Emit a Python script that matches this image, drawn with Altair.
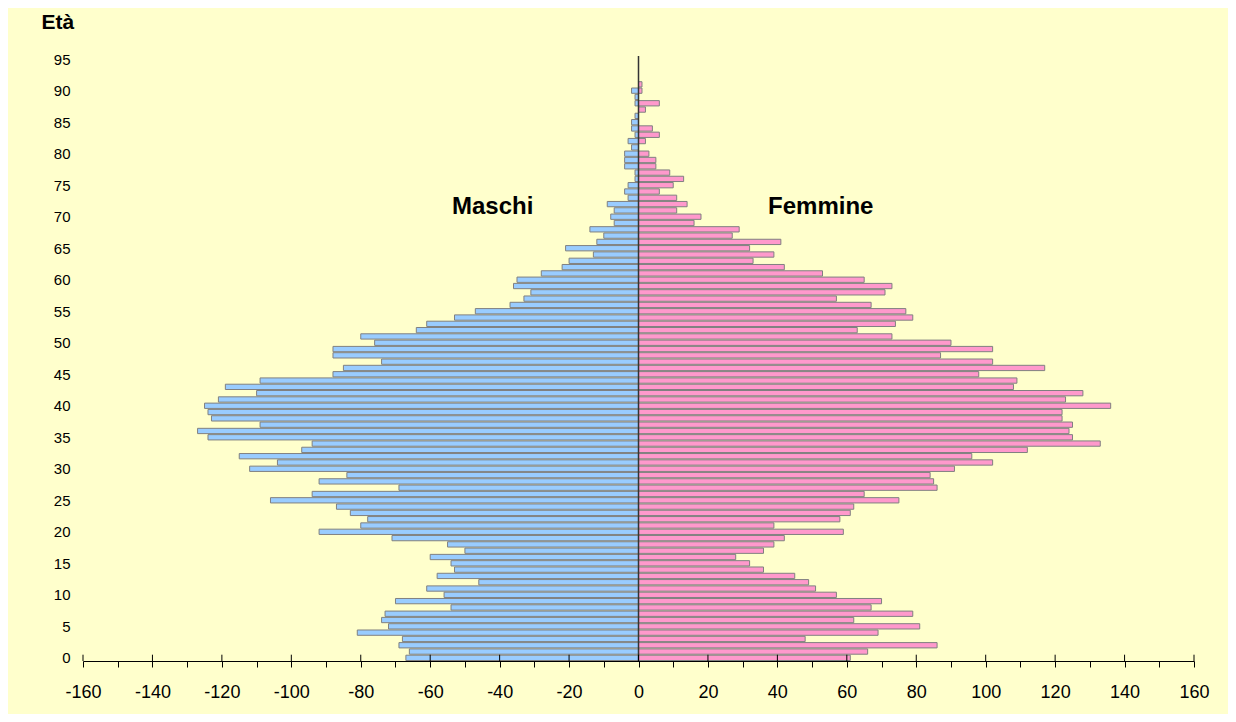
import altair as alt
import pandas as pd

# ---- data ----
ages = list(range(0, 92))
maschi = [67, 66, 69, 68, 81, 72, 74, 73, 54, 70,
          56, 61, 46, 58, 53, 54, 60, 50, 55, 71,
          92, 80, 78, 83, 87, 106, 94, 69, 92, 84,
          112, 104, 115, 97, 94, 124, 127, 109, 123, 124,
          125, 121, 110, 119, 109, 88, 85, 74, 88, 88,
          76, 80, 64, 61, 53, 47, 37, 33, 31, 36,
          35, 28, 22, 20, 13, 21, 12, 10, 14, 7,
          8, 7, 9, 3, 4, 3, 1, 1, 4, 4,
          4, 2, 3, 1, 2, 2, 1, 0, 1, 1,
          2, 0]
femmine = [61, 66, 86, 48, 69, 81, 62, 79, 67, 70,
           57, 51, 49, 45, 36, 32, 28, 36, 39, 42,
           59, 39, 58, 61, 62, 75, 65, 86, 85, 84,
           91, 102, 96, 112, 133, 125, 124, 125, 122, 122,
           136, 123, 128, 108, 109, 98, 117, 102, 87, 102,
           90, 73, 63, 74, 79, 77, 67, 57, 71, 73,
           65, 53, 42, 33, 39, 32, 41, 27, 29, 16,
           18, 11, 14, 11, 6, 10, 13, 9, 5, 5,
           3, 0, 2, 6, 4, 0, 0, 2, 6, 0,
           1, 1]
sexes = ["Maschi", "Femmine"]
x_ticks = list(range(-160, 161, 10))
major_ticks = list(range(-160, 161, 20))
y_ticks = list(range(0, 96, 5))

rows = []
for a, m, f in zip(ages, maschi, femmine):
    rows.append({"age": a, "sex": "Maschi", "value": -m})
    rows.append({"age": a, "sex": "Femmine", "value": f})
df = pd.DataFrame(rows)

FONT = "Liberation Sans, Arial, sans-serif"

xscale = alt.Scale(domain=[-160, 160], nice=False, zero=False)
yscale = alt.Scale(domain=[-0.5, 95.5], nice=False, zero=False)

xaxis = alt.Axis(values=x_ticks, title=None, grid=False,
                 labelExpr="datum.value % 20 == 0 ? '' + datum.value : ''",
                 labelFontSize=18, labelFont=FONT, labelColor="#000000",
                 labelPadding=16, tickSize=6, tickColor="#000000",
                 domainColor="#000000", labelFlush=False,
                 labelOverlap=False)
yaxis = alt.Axis(values=y_ticks, grid=False, ticks=False, domain=False,
                 labelFontSize=15, labelFont=FONT, labelColor="#000000",
                 labelPadding=13, labelOverlap=False, labelFlush=False,
                 labelBound=False,
                 title="Età", titleAngle=0,
                 titleAlign="left", titleBaseline="alphabetic",
                 titleX=-42, titleY=-28, titleFontSize=21,
                 titleFont=FONT, titleFontWeight="bold",
                 titleColor="#000000")

bars = alt.Chart(df).transform_filter(
    "datum.value != 0"
).transform_calculate(
    lo="datum.age - 0.42", hi="datum.age + 0.42"
).mark_bar(stroke="#808080", strokeWidth=1).encode(
    x=alt.X("value:Q", scale=xscale, axis=xaxis),
    x2=alt.datum(0),
    y=alt.Y("lo:Q", scale=yscale, axis=yaxis),
    y2="hi:Q",
    color=alt.Color("sex:N", scale=alt.Scale(domain=sexes,
                                             range=["#99CCFF", "#FF99CC"]),
                    legend=None),
)

one = pd.DataFrame({"k": [0]})

zero_line = alt.Chart(one).mark_rule(color="#333333", strokeWidth=1.5).encode(
    x=alt.X(datum=0, scale=xscale, axis=xaxis),
    y=alt.Y(datum=-0.5, scale=yscale, axis=yaxis),
    y2=alt.datum(95.5)
)

tick_df = pd.DataFrame({"t": major_ticks})
major = alt.Chart(tick_df).mark_rule(color="#000000", strokeWidth=1).encode(
    x=alt.X("t:Q", scale=xscale, axis=xaxis),
    y=alt.Y(datum=-0.5, scale=yscale, axis=yaxis),
    y2=alt.datum(0.5)
)

lab_m = alt.Chart(pd.DataFrame({"s": [sexes[0]]})).mark_text(
    font=FONT, fontSize=24, fontWeight="bold", color="#000000",
    baseline="middle").encode(
    x=alt.X(datum=-42, scale=xscale, axis=xaxis),
    y=alt.Y(datum=71.5, scale=yscale, axis=yaxis), text="s:N"
)
lab_f = alt.Chart(pd.DataFrame({"s": [sexes[1]]})).mark_text(
    font=FONT, fontSize=24, fontWeight="bold", color="#000000",
    baseline="middle").encode(
    x=alt.X(datum=52.5, scale=xscale, axis=xaxis),
    y=alt.Y(datum=71.5, scale=yscale, axis=yaxis), text="s:N"
)

chart = alt.layer(bars, zero_line, major, lab_m, lab_f).properties(
    width=1111, height=605, autosize="none",
    padding={"left": 75, "top": 48, "right": 34, "bottom": 53},
    background="#FFFFCC",
).configure_view(stroke=None).configure_axis(labelOverlap=False)

chart.save("out.html", embed_options={"renderer": "svg", "actions": False})
